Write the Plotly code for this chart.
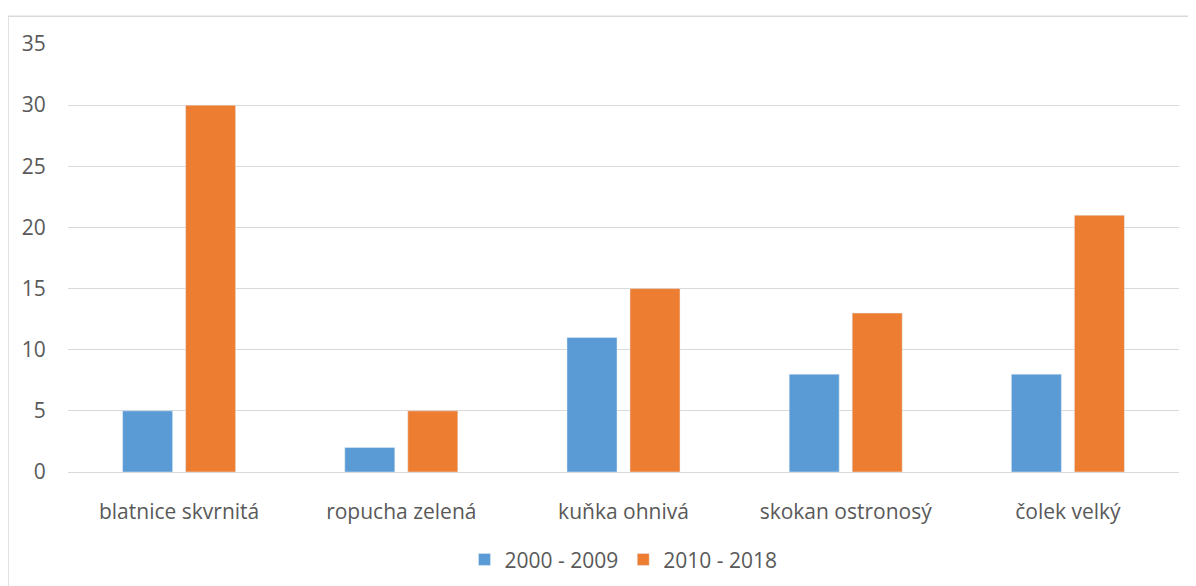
import plotly.graph_objects as go

categories = ["blatnice skvrnitá", "ropucha zelená", "kuňka ohnivá", "skokan ostronosý", "čolek velký"]
series_2000_2009 = [5, 2, 11, 8, 8]
series_2010_2018 = [30, 5, 15, 13, 21]
y_ticks = [0, 5, 10, 15, 20, 25, 30, 35]

TEXT = "#595959"
GRID = "#D9D9D9"
FONT = "Open Sans"

fig = go.Figure()
fig.add_trace(go.Bar(x=categories, y=series_2000_2009, name="2000 - 2009", marker_color="#5B9BD5"))
fig.add_trace(go.Bar(x=categories, y=series_2010_2018, name="2010 - 2018", marker_color="#ED7D31"))

fig.update_layout(
    width=1188, height=578,
    margin=dict(l=60, r=17, t=36, b=114, autoexpand=False),
    paper_bgcolor="white", plot_bgcolor="white",
    barmode="group", bargap=0.433, bargroupgap=0.206,
    font=dict(family=FONT, color=TEXT, size=21),
    showlegend=True,
    legend=dict(orientation="h", x=0.5, xanchor="center", y=-0.205, yanchor="middle",
                font=dict(size=21, color=TEXT), itemwidth=30, traceorder="normal"),
    xaxis=dict(showgrid=False, showline=False, zeroline=False,
               ticks="outside", ticklen=21, tickcolor="rgba(0,0,0,0)",
               tickfont=dict(size=21, color=TEXT)),
    yaxis=dict(range=[0, 35], tickvals=y_ticks, showgrid=True, gridcolor=GRID, gridwidth=1.3,
               zeroline=True, zerolinecolor=GRID, zerolinewidth=1.3, showline=False,
               ticks="outside", ticklen=17, tickcolor="rgba(0,0,0,0)",
               tickfont=dict(size=21, color=TEXT)),
    shapes=[dict(type="rect", xref="paper", yref="paper",
                 x0=-0.054, x1=1.1, y0=-0.4, y1=1.065,
                 line=dict(color="#D9D9D9", width=1.5), fillcolor="rgba(0,0,0,0)", layer="below")],
)

fig.write_html("out.html")
